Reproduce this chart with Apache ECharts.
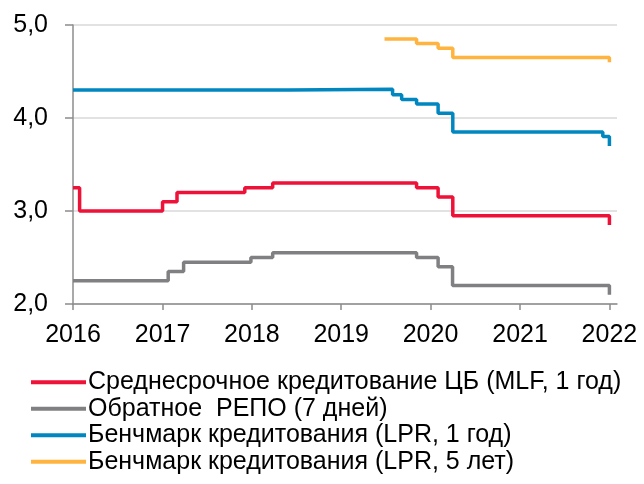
<!DOCTYPE html>
<html>
<head>
<meta charset="utf-8">
<script src="https://cdn.jsdelivr.net/npm/echarts@6/dist/echarts.min.js"></script>
<style>
  html, body { margin: 0; padding: 0; background: #fff; }
  #chart { width: 644px; height: 484px; }
</style>
</head>
<body>
<div id="chart"></div>
<script>
// названия рядов
const seriesNames = [
  'Среднесрочное кредитование ЦБ (MLF, 1 год)',
  'Обратное  РЕПО (7 дней)',
  'Бенчмарк кредитования (LPR, 1 год)',
  'Бенчмарк кредитования (LPR, 5 лет)'
]
const seriesColors = ['#EE1138', '#808083', '#0087C0', '#FFB43F']

// даты изменения ставки и новое значение
const mlf = [
  ['2016-01-01', 3.25], ['2016-01-28', 3.00], ['2017-01-01', 3.10],
  ['2017-03-01', 3.20], ['2017-12-03', 3.25], ['2018-03-27', 3.30],
  ['2019-11-05', 3.25], ['2020-02-01', 3.15], ['2020-04-01', 2.95],
  ['2022-01-01', 2.85]
]
const repo = [
  ['2016-01-01', 2.25], ['2017-01-24', 2.35], ['2017-03-28', 2.45],
  ['2017-12-28', 2.50], ['2018-03-27', 2.55], ['2019-11-05', 2.50],
  ['2020-02-01', 2.40], ['2020-03-31', 2.20], ['2022-01-01', 2.10]
]
const lpr1 = [
  ['2016-01-01', 4.30], ['2018-06-01', 4.31], ['2019-07-30', 4.25],
  ['2019-09-05', 4.20], ['2019-11-05', 4.15], ['2020-02-01', 4.05],
  ['2020-04-01', 3.85], ['2021-12-05', 3.80], ['2022-01-01', 3.70]
]
const lpr5 = [
  ['2019-06-27', 4.85], ['2019-11-05', 4.80], ['2020-02-01', 4.75],
  ['2020-04-01', 4.65], ['2022-01-01', 4.60]
]
const allData = [mlf, repo, lpr1, lpr5]

const YEAR = 365 * 24 * 3600 * 1000
const fontFamily = '"Liberation Sans", Arial, sans-serif'

const chart = echarts.init(document.getElementById('chart'))

const series = allData.map((d, i) => ({
  name: seriesNames[i],
  type: 'line',
  step: 'end',
  data: d,
  showSymbol: false,
  color: seriesColors[i],
  lineStyle: { width: 3.5, color: seriesColors[i] }
}))

const option = {
  animation: false,
  grid: { left: 73, right: 27, top: 25, bottom: 180, containLabel: false },
  legend: {
    orient: 'vertical',
    left: 31,
    top: 369,
    height: 115,
    padding: 0,
    icon: 'rect',
    itemWidth: 55,
    itemHeight: 4,
    itemGap: 0,
    data: seriesNames,
    textStyle: { fontFamily, fontSize: 25, color: '#000', lineHeight: 26.5, padding: [0, 0, 0, -3] }
  },
  xAxis: {
    type: 'time',
    min: '2016-01-01',
    max: '2022-02-01',
    minInterval: YEAR,
    maxInterval: YEAR + 24 * 3600 * 1000,
    axisLine: { lineStyle: { color: '#8c8c8c', width: 1.5 } },
    axisTick: { show: true, length: 6, lineStyle: { color: '#8c8c8c', width: 1.5 } },
    axisLabel: {
      formatter: '{yyyy}',
      fontFamily, fontSize: 25, color: '#000', margin: 19,
      showMaxLabel: false
    },
    splitLine: { show: false }
  },
  yAxis: {
    type: 'value',
    min: 2,
    max: 5,
    interval: 1,
    axisLine: { show: true, lineStyle: { color: '#8c8c8c', width: 1.5 } },
    axisTick: { show: true, length: 8, lineStyle: { color: '#8c8c8c', width: 1.5 } },
    axisLabel: {
      formatter: v => v.toFixed(1).replace('.', ','),
      fontFamily, fontSize: 25, color: '#000', margin: 25
    },
    splitLine: { lineStyle: { color: '#d9d9d9', width: 1.5 } }
  },
  series
}

chart.setOption(option)
</script>
</body>
</html>
